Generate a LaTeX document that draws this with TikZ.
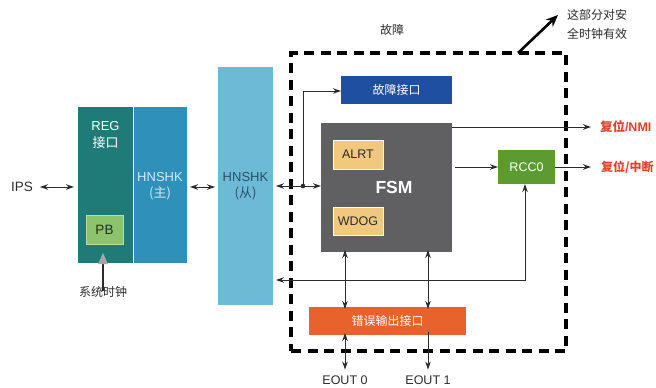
\documentclass[tikz,border=0pt]{standalone}
\usepackage{fontspec}
\setmainfont{Liberation Sans}
\newfontfamily\cjk{Noto Sans CJK SC}
\usetikzlibrary{arrows.meta}
\definecolor{regc}{HTML}{1F7B77}
\definecolor{masterc}{HTML}{2F90B9}
\definecolor{slavec}{HTML}{6CBAD6}
\definecolor{slavetxt}{HTML}{2C4F66}
\definecolor{mastertxt}{HTML}{D4EAF3}
\definecolor{pbc}{HTML}{8BC46C}
\definecolor{pbedge}{HTML}{B8DDA0}
\definecolor{faultc}{HTML}{1E4FA0}
\definecolor{fsmc}{HTML}{606062}
\definecolor{unitc}{HTML}{F2C87F}
\definecolor{rccc}{HTML}{5C9B30}
\definecolor{errc}{HTML}{E8632B}
\definecolor{outred}{HTML}{E4402B}
\definecolor{txtc}{HTML}{2B2B2B}
\tikzset{
  blk/.style={rectangle, inner sep=0pt, outer sep=0pt},
  lbl/.style={inner sep=0pt, outer sep=0pt, text=txtc, font=\fontsize{12.5}{14}\selectfont},
  cjklbl/.style={inner sep=0pt, outer sep=0pt, text=txtc, font=\fontsize{12}{13}\selectfont\cjk},
  sig/.style={line width=1pt, draw=txtc},
  tip/.style={-{Stealth[length=8pt,width=5.5pt]}},
  tips/.style={{Stealth[length=8pt,width=5.5pt]}-{Stealth[length=8pt,width=5.5pt]}},
}
\begin{document}
\begin{tikzpicture}[x=1pt,y=-1pt]
\useasboundingbox (0,0) rectangle (656,388);

% master side: register interface and master handshake
\node[blk, fill=regc, minimum width=55pt, minimum height=156pt] (reg) at (105.5,185) {};
\node[blk, fill=masterc, minimum width=54pt, minimum height=156pt] (master) at (160,185) {};
\draw[white, line width=0.8pt] (133,107) -- (133,263);
\node[inner sep=0pt, text=white, align=center, font=\fontsize{13}{16.5}\selectfont] (regtxt) at (105.5,135) {REG\\{\cjk 接口}};
\node[inner sep=0pt, text=mastertxt, align=center, font=\fontsize{13}{16.5}\selectfont] (mastertxtnode) at (160,186) {HNSHK\\{\cjk (主)}};
\node[blk, fill=pbc, draw=pbedge, line width=1pt, minimum width=37pt, minimum height=29pt,
      font=\fontsize{13.5}{14}\selectfont, text=txtc] (pb) at (104.5,229.5) {PB};

% slave handshake
\node[blk, fill=slavec, minimum width=55pt, minimum height=238pt] (slave) at (245.5,186) {};
\node[inner sep=0pt, text=slavetxt, align=center, font=\fontsize{13}{16.5}\selectfont] (slavetxtnode) at (245.5,186) {HNSHK\\{\cjk (从)}};

% safety clock domain
\node[blk, draw=black, line width=3.2pt, dash pattern=on 10pt off 6.5pt,
      minimum width=275pt, minimum height=298pt] (domain) at (428.5,202) {};
\node[cjklbl] (faultlbl) at (392,30) {故障};
\coordinate (domcorner) at (518,53);
\coordinate (domtip) at (558,15);
\draw[line width=2.6pt, -{Stealth[length=12pt,width=10pt]}] (domcorner) -- (domtip);
\node[cjklbl, align=left, anchor=west, font=\fontsize{12}{19}\selectfont\cjk] (domnote) at (567,24) {这部分对安\\全时钟有效};

\node[blk, fill=faultc, minimum width=111pt, minimum height=28pt, text=white,
      font=\fontsize{12}{13}\selectfont\cjk] (fault) at (396.5,90) {故障接口};
\node[blk, fill=fsmc, minimum width=131pt, minimum height=129pt] (fsm) at (386.5,187.5) {};
\node[inner sep=0pt, text=white, font=\fontsize{17.5}{20}\selectfont\bfseries] (fsmtxt) at (394,187) {FSM};
\node[blk, fill=unitc, draw=white, line width=1pt, minimum width=50pt, minimum height=29pt,
      font=\fontsize{12.5}{14}\selectfont, text=txtc] (alrt) at (358,154.5) {ALRT};
\node[blk, fill=unitc, draw=white, line width=1pt, minimum width=50pt, minimum height=28pt,
      font=\fontsize{12.5}{14}\selectfont, text=txtc] (wdog) at (358,221) {WDOG};
\node[blk, fill=rccc, minimum width=57pt, minimum height=34pt, text=white,
      font=\fontsize{12.5}{14}\selectfont] (rcc) at (526.5,167) {RCC0};
\node[blk, fill=errc, minimum width=157pt, minimum height=28pt, text=white,
      font=\fontsize{12}{13}\selectfont\cjk] (err) at (387.5,321) {错误输出接口};

% external labels
\node[lbl, font=\fontsize{13.5}{15}\selectfont] (ips) at (22,187) {IPS};
\node[cjklbl] (clk) at (103,292) {系统时钟};
\node[lbl, anchor=west, text=outred, font=\fontsize{12.5}{14}\selectfont\bfseries] (nmi) at (600,127) {{\cjk\bfseries 复位}/NMI};
\node[lbl, anchor=west, text=outred, font=\fontsize{12}{14}\selectfont\cjk\bfseries] (irq) at (601,167) {复位/中断};
\node[lbl] (eout0) at (345,380) {EOUT 0};
\node[lbl] (eout1) at (428,380) {EOUT 1};

% connectors
\coordinate (ipsR) at (40,187);
\draw[sig, tips] (ipsR) -- ([xshift=-4pt]reg.west |- ipsR);
\coordinate (mA) at (190,187);
\draw[sig, tips] (mA) -- ([xshift=-3pt]slave.west |- mA);
\coordinate (junc) at (303,186);
\draw[sig, tips] ([xshift=3pt]slave.east |- junc) -- (fsm.west |- junc);
\fill[txtc] (junc) circle (2.3pt);
\draw[sig, tip] (junc) |- (fault.west |- 0,91);
\coordinate (nmiend) at (591,127);
\draw[sig, tip] (fsm.east |- nmiend) -- (nmiend);
\draw[sig, tip] ([xshift=3pt]fsm.east |- rcc.west) -- (rcc.west);
\coordinate (irqend) at (591,167);
\draw[sig, tip] (rcc.east) -- (irqend);
\coordinate (fbturn) at (525,280);
\draw[sig, tips] (rcc.south -| fbturn) -- (fbturn) -- ([xshift=3pt]slave.east |- fbturn);
\draw[sig, tips] ([yshift=2pt]fsm.south -| eout0) -- ([yshift=-2pt]err.north -| eout0);
\draw[sig, tips] ([yshift=2pt]fsm.south -| eout1) -- ([yshift=-2pt]err.north -| eout1);
\draw[sig, tips] ([yshift=2pt]err.south -| eout0) -- ([yshift=6pt]eout0.north);
\draw[sig, tip] ([yshift=3pt]err.south -| eout1) -- ([yshift=6pt]eout1.north);

% system clock into PB
\coordinate (clkhead) at (103,264);
\draw[line width=1.6pt, txtc] ([yshift=-5pt]clk.north) -- (clkhead);
\fill[gray!70] (103,253) -- (98,264) -- (108,264) -- cycle;
\end{tikzpicture}
\end{document}
